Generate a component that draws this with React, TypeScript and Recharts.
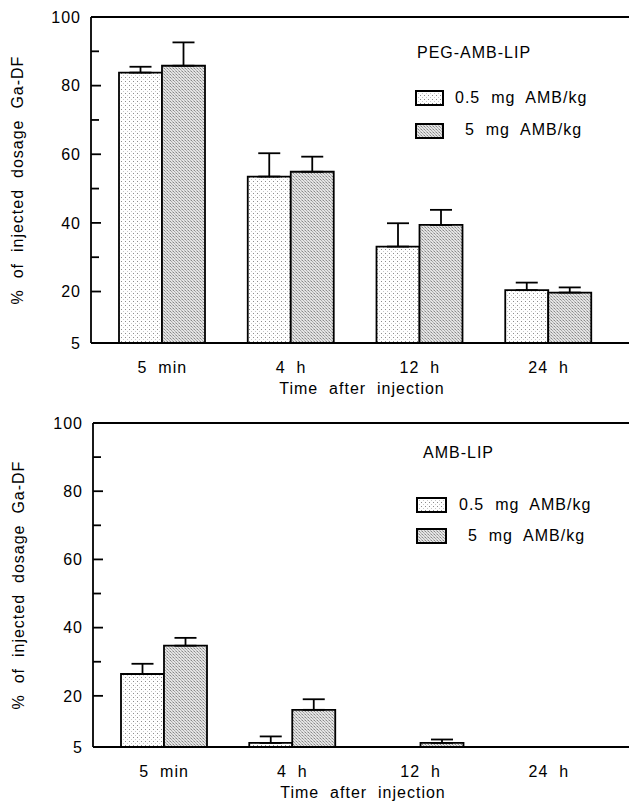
import { BarChart, Bar, XAxis, YAxis, ErrorBar, ReferenceLine, Label } from "recharts";

const categories = ["5  min", "4  h", "12  h", "24  h"];
const seriesNames = ["0.5  mg  AMB/kg", "5  mg  AMB/kg"];
const yTicks = [5, 20, 30, 40, 50, 60, 70, 80, 90, 100];
const majorTicks = [5, 20, 40, 60, 80, 100];

// PEG-AMB-LIP (top panel)
const pegLow = [83.8, 53.5, 33.1, 20.4];
const pegLowErr = [1.7, 6.8, 6.8, 2.2];
const pegHigh = [85.8, 54.9, 39.4, 19.7];
const pegHighErr = [6.8, 4.4, 4.4, 1.5];

// AMB-LIP (bottom panel)
const ambLow = [26.4, 6.2, null, null];
const ambLowErr = [3.0, 1.9, null, null];
const ambHigh = [34.7, 15.9, 6.2, null];
const ambHighErr = [2.3, 3.1, 1.0, null];

const FONT = "'Liberation Sans', Arial, Helvetica, sans-serif";
const FS = 16;
const LW = 1.8;

function build(low: (number | null)[], lowErr: (number | null)[], high: (number | null)[], highErr: (number | null)[]) {
  return categories.map((name, i) => ({
    name,
    low: low[i],
    lowErr: lowErr[i] == null ? null : [0, lowErr[i]],
    high: high[i],
    highErr: highErr[i] == null ? null : [0, highErr[i]],
  }));
}

const topData = build(pegLow, pegLowErr, pegHigh, pegHighErr);
const bottomData = build(ambLow, ambLowErr, ambHigh, ambHighErr);

const YTick = (props: any) => {
  const { x, y, payload } = props;
  const major = majorTicks.includes(payload.value);
  return (
    <g>
      <line x1={x} x2={x + (major ? 10 : 8)} y1={y} y2={y} stroke="#000" strokeWidth={LW} />
      {major && (
        <text x={x - 10} y={y} dy="0.36em" textAnchor="end" fontSize={FS} letterSpacing={1} fontFamily={FONT} fill="#000">
          {payload.value}
        </text>
      )}
    </g>
  );
};

const XTick = (props: any) => {
  const { x, y, payload } = props;
  return (
    <text x={x} y={y + 30} textAnchor="middle" fontSize={FS} letterSpacing={1} fontFamily={FONT} fill="#000" style={{ whiteSpace: "pre" }}>
      {payload.value}
    </text>
  );
};

const yLabel = (lx: number) => (props: any) => {
  const vb = props.viewBox;
  const cy = vb.y + vb.height / 2;
  return (
    <text x={lx} y={cy} transform={`rotate(-90 ${lx} ${cy})`} textAnchor="middle" dominantBaseline="central" fontSize={FS} letterSpacing={1} fontFamily={FONT} fill="#000" style={{ whiteSpace: "pre" }}>
      {"%  of  injected  dosage  Ga-DF"}
    </text>
  );
};

const xLabel = (props: any) => {
  const vb = props.viewBox;
  return (
    <text x={vb.x + vb.width / 2 + 2} y={vb.y + 51} textAnchor="middle" fontSize={FS} letterSpacing={1} fontFamily={FONT} fill="#000" style={{ whiteSpace: "pre" }}>
      {"Time  after  injection"}
    </text>
  );
};

function Swatch({ fill, w, h }: { fill: string; w: number; h: number }) {
  return (
    <svg width={w} height={h} style={{ position: "absolute", left: 0, top: 0 }}>
      <rect x={1} y={1} width={w - 2} height={h - 2} fill={fill} stroke="#000" strokeWidth={2} />
    </svg>
  );
}

function LegendBox({ title, ids, lay }: any) {
  const txt: any = { position: "absolute", fontSize: FS, letterSpacing: 1, fontFamily: FONT, whiteSpace: "pre", lineHeight: "16px", color: "#000" };
  return (
    <div style={{ position: "absolute", left: lay.left, top: lay.top, width: 210, height: 110 }}>
      <div style={{ ...txt, left: lay.titleX, top: 5 }}>{title}</div>
      {seriesNames.map((n, i) => (
        <div key={i}>
          <div style={{ position: "absolute", left: 0, top: lay.boxY[i], width: lay.bw, height: lay.bh }}>
            <Swatch fill={`url(#${ids[i]})`} w={lay.bw} h={lay.bh} />
          </div>
          <div style={{ ...txt, left: lay.textX[i], top: lay.textY[i] - 8 }}>{n}</div>
        </div>
      ))}
    </div>
  );
}

function Patterns({ p }: { p: string }) {
  return (
    <defs>
      <pattern id={`${p}dots`} width={4} height={4} patternUnits="userSpaceOnUse">
        <rect width={4} height={4} fill="#fff" />
        <rect x={1} y={1} width={1} height={1} fill="#8c8c8c" />
        <rect x={3} y={3} width={1} height={1} fill="#c8c8c8" />
      </pattern>
      <pattern id={`${p}dense`} width={3} height={3} patternUnits="userSpaceOnUse">
        <rect width={3} height={3} fill="#e4e4e4" />
        <rect x={0} y={0} width={1} height={1} fill="#888" />
        <rect x={1} y={1} width={1} height={1} fill="#a6a6a6" />
        <rect x={2} y={2} width={1} height={1} fill="#b4b4b4" />
        <rect x={2} y={0} width={1} height={1} fill="#cfcfcf" />
      </pattern>
    </defs>
  );
}

function Panel({ data, p, title, height, yWidth, top, plotH, labelX, lay }: any) {
  return (
    <div style={{ position: "relative", width: 621, height }}>
      <BarChart width={621} height={height} data={data} margin={{ top, right: 0, left: 0, bottom: 0 }} barGap={0} barSize={43}>
        <Patterns p={p} />
        <XAxis dataKey="name" height={height - top - plotH} tickLine={false} tickSize={0} tickMargin={0} axisLine={{ stroke: "#000", strokeWidth: LW }} tick={<XTick />} padding={{ left: 7, right: 16 }} interval={0}>
          <Label content={xLabel} />
        </XAxis>
        <YAxis width={yWidth} domain={[5, 100]} ticks={yTicks} type="number" allowDataOverflow tickLine={false} tickSize={0} tickMargin={0} axisLine={{ stroke: "#000", strokeWidth: LW }} tick={<YTick />} interval={0}>
          <Label content={yLabel(labelX)} />
        </YAxis>
        <ReferenceLine y={100} stroke="#000" strokeWidth={LW} />
        <Bar dataKey="low" name={seriesNames[0]} fill={`url(#${p}dots)`} stroke="#000" strokeWidth={LW} isAnimationActive={false}>
          <ErrorBar dataKey="lowErr" width={11} stroke="#000" strokeWidth={LW} direction="y" />
        </Bar>
        <Bar dataKey="high" name={seriesNames[1]} fill={`url(#${p}dense)`} stroke="#000" strokeWidth={LW} isAnimationActive={false}>
          <ErrorBar dataKey="highErr" width={11} stroke="#000" strokeWidth={LW} direction="y" />
        </Bar>
      </BarChart>
      <LegendBox title={title} ids={[`${p}dots`, `${p}dense`]} lay={lay} />
    </div>
  );
}

export default function App() {
  return (
    <div style={{ position: "absolute", left: 8, top: 8, width: 621, height: 793, overflow: "hidden", background: "#fff" }}>
      <Panel
        data={topData}
        p="t"
        title="PEG-AMB-LIP"
        height={400}
        yWidth={83}
        top={9}
        plotH={326}
        labelX={9}
        lay={{ left: 407, top: 32, titleX: 2, boxY: [50, 83], textY: [58, 90], textX: [40, 50], bw: 29, bh: 16 }}
      />
      <Panel
        data={bottomData}
        p="b"
        title="AMB-LIP"
        height={393}
        yWidth={85}
        top={15}
        plotH={324}
        labelX={10}
        lay={{ left: 408, top: 32, titleX: 7, boxY: [57, 88], textY: [65, 96], textX: [43, 52], bw: 31, bh: 16 }}
      />
    </div>
  );
}
